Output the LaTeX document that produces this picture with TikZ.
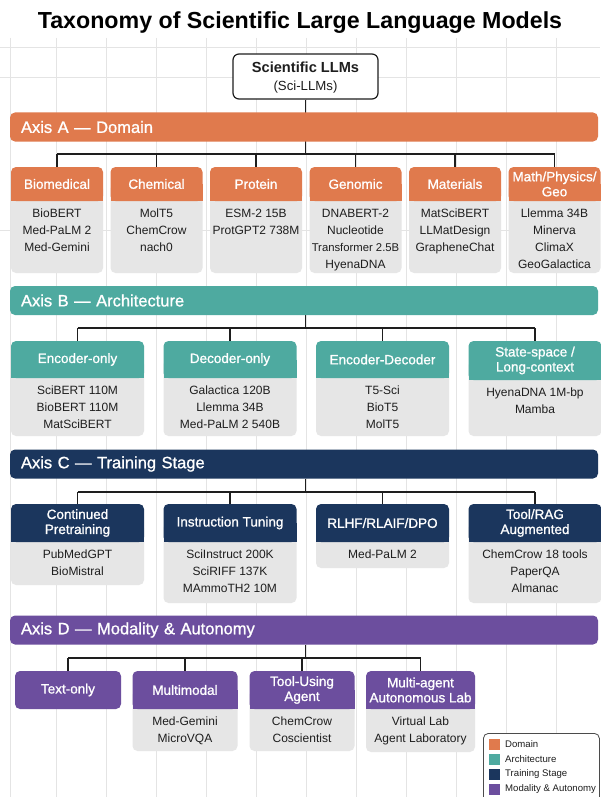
\documentclass[tikz,border=0pt]{standalone}
\usepackage{fontspec}
\setmainfont{Liberation Sans}
\newfontfamily\medfont[FakeBold=1]{Liberation Sans}
\usetikzlibrary{calc}

\definecolor{axA}{HTML}{E07A4D}
\definecolor{axB}{HTML}{4EAAA0}
\definecolor{axC}{HTML}{1B365D}
\definecolor{axD}{HTML}{6C4E9E}
\definecolor{cellgray}{HTML}{E6E6E6}
\definecolor{gridgray}{HTML}{E4E4E4}
\definecolor{ink}{HTML}{1E1E1E}

\pgfdeclarelayer{bg}
\pgfsetlayers{bg,main}

\newcommand{\fs}[2]{\fontsize{#1}{#2}\selectfont}

\tikzset{
  conn/.style={draw=ink, line width=1.2pt},
  gridline/.style={draw=gridgray, line width=0.8pt},
  axisband/.style={rectangle, rounded corners=5pt, minimum height=29pt,
    text width=566pt, inner xsep=11pt, inner ysep=0pt, align=left,
    text=white, font=\medfont\fs{16.5}{18}},
  cathead/.style={rectangle, rounded corners=5pt, inner sep=0pt,
    text=white, align=center, font=\medfont\fs{13.5}{15}},
  catbody/.style={rectangle, rounded corners=5pt, fill=cellgray, inner sep=0pt},
  catlist/.style={inner sep=0pt, align=center, text=ink, font=\fs{12}{17}},
  swatch/.style={rectangle, inner sep=0pt, minimum size=11pt},
  legtext/.style={inner sep=0pt, text=ink, font=\fs{9.6}{11}},
}

% #1 name, #2 colour, #3 centre x, #4 top, #5 width,
% #6 header height, #7 bottom, #8 header text, #9 model list
\newcommand{\catbox}[9]{%
  \node[catbody, minimum width=#5, minimum height={#7-#4-#6/2}] (#1)
    at (#3,{#4+#6/2+(#7-#4-#6/2)/2}) {};
  \fill[#2] ({#3-#5/2},{#4+#6/2}) rectangle ({#3+#5/2},{#4+#6});
  \node[cathead, fill=#2, minimum width=#5, minimum height=#6] (#1h)
    at (#3,{#4+#6/2}) {#8};
  \node[catlist, anchor=north] (#1l) at (#3,{#4+#6+7.7}) {#9};
}

\begin{document}
\begin{tikzpicture}[x=1pt, y=-1pt]
\useasboundingbox (0,0) rectangle (600,797);

% background grid
\begin{pgfonlayer}{bg}
\fill[white] (0,0) rectangle (600,797);
\foreach \gx in {10,56,106,156,206,256,306,356,406,456,506,556}
  \draw[gridline] (\gx,38) -- (\gx,797);
\foreach \gy in {47,77,230}
  \draw[gridline] (0,\gy) -- (600,\gy);
\end{pgfonlayer}

% title and root
\node[font=\bfseries\fs{23.2}{26}, anchor=base, text=black] (title)
  at (300,29) {Taxonomy of Scientific Large Language Models};
\node[rectangle, rounded corners=6pt, draw=ink, line width=1.2pt, fill=white,
  minimum width=145, minimum height=45, inner sep=0pt] (root) at (305.5,76.5) {};
\node[font=\bfseries\fs{14.6}{18}, anchor=base, text=ink] (rootname)
  at (305.5,73) {Scientific LLMs};
\node[font=\fs{13.2}{16}, anchor=base, text=ink] (rootabbr)
  at (305.5,91) {(Sci-LLMs)};

% axis bands
\node[axisband, fill=axA] (bandA) at (304,127) {Axis A — Domain};
\node[axisband, fill=axB] (bandB) at (304,300.5) {Axis B — Architecture};
\node[axisband, fill=axC] (bandC) at (304,464) {Axis C — Training Stage};
\node[axisband, fill=axD] (bandD) at (304,630) {Axis D — Modality \& Autonomy};

% Axis A: domain
\catbox{A1}{axA}{57}{167}{92}{34}{273}{Biomedical}{BioBERT\\Med-PaLM 2\\Med-Gemini}
\catbox{A2}{axA}{156.5}{167}{92}{34}{273}{Chemical}{MolT5\\ChemCrow\\nach0}
\catbox{A3}{axA}{256}{167}{92}{34}{273}{Protein}{ESM-2 15B\\ProtGPT2 738M}
\catbox{A4}{axA}{355.5}{167}{92}{34}{273}{Genomic}{DNABERT-2\\Nucleotide\\{\fs{11.3}{17}Transformer 2.5B}\\HyenaDNA}
\catbox{A5}{axA}{455}{167}{92}{34}{273}{Materials}{MatSciBERT\\LLMatDesign\\GrapheneChat}
\catbox{A6}{axA}{554.5}{167}{92}{34}{273}{Math/Physics/\\Geo}{Llemma 34B\\Minerva\\ClimaX\\GeoGalactica}

% Axis B: architecture
\catbox{B1}{axB}{77.5}{341}{133}{37}{436}{Encoder-only}{SciBERT 110M\\BioBERT 110M\\MatSciBERT}
\catbox{B2}{axB}{230}{341}{133}{37}{436}{Decoder-only}{Galactica 120B\\Llemma 34B\\Med-PaLM 2 540B}
\catbox{B3}{axB}{382.5}{341}{133}{37}{436}{Encoder-Decoder}{T5-Sci\\BioT5\\MolT5}
\catbox{B4}{axB}{535}{341}{133}{39}{436}{State-space /\\Long-context}{HyenaDNA 1M-bp\\Mamba}

% Axis C: training stage
\catbox{C1}{axC}{77.5}{504}{133}{38}{585}{Continued\\Pretraining}{PubMedGPT\\BioMistral}
\catbox{C2}{axC}{230}{504}{133}{38}{603}{Instruction Tuning}{SciInstruct 200K\\SciRIFF 137K\\MAmmoTH2 10M}
\catbox{C3}{axC}{382.5}{504}{133}{38}{568}{RLHF/RLAIF/DPO}{Med-PaLM 2}
\catbox{C4}{axC}{535}{504}{133}{38}{603}{Tool/RAG\\Augmented}{ChemCrow 18 tools\\PaperQA\\Almanac}

% Axis D: modality and autonomy
\node[cathead, fill=axD, minimum width=106, minimum height=38] (D1h) at (68,690) {Text-only};
\catbox{D2}{axD}{185}{671}{105}{38}{751}{Multimodal}{Med-Gemini\\MicroVQA}
\catbox{D3}{axD}{302}{671}{105}{38}{751}{Tool-Using\\Agent}{ChemCrow\\Coscientist}
\catbox{D4}{axD}{420.5}{671}{109}{38}{752}{Multi-agent\\Autonomous Lab}{Virtual Lab\\Agent Laboratory}

% junction points of each axis
\coordinate (Aj) at (305.5,154);
\coordinate (Bj) at (305.5,328);
\coordinate (Cj) at (305.5,492);
\coordinate (Dj) at (305.5,658);

% tree connectors
\begin{pgfonlayer}{bg}
\draw[conn] (root.south) -- (Aj);
\draw[conn] (Aj -| A1h.north) -- (Aj -| A6h.north);
\foreach \n in {A1,A2,A3,A4,A5,A6}
  \draw[conn] (Aj -| \n h.north) -- (\n h.north);

\draw[conn] (bandB.south -| Bj) -- (Bj);
\draw[conn] (Bj -| B1h.north) -- (Bj -| B4h.north);
\foreach \n in {B1,B2,B3,B4}
  \draw[conn] (Bj -| \n h.north) -- (\n h.north);

\draw[conn] (bandC.south -| Cj) -- (Cj);
\draw[conn] (Cj -| C1h.north) -- (Cj -| C4h.north);
\foreach \n in {C1,C2,C3,C4}
  \draw[conn] (Cj -| \n h.north) -- (\n h.north);

\draw[conn] (bandD.south -| Dj) -- (Dj);
\draw[conn] (Dj -| D1h.north) -- (Dj -| D4h.north);
\foreach \n in {D1,D2,D3,D4}
  \draw[conn] (Dj -| \n h.north) -- (\n h.north);
\end{pgfonlayer}

% legend
\node[draw=ink!80, line width=0.8pt, rounded corners=5pt, fill=white,
  minimum width=116, minimum height=72, inner sep=0pt, anchor=north west]
  (legend) at (483,733) {};
\node[swatch, fill=axA] (kA) at (494.5,744) {};
\node[swatch, fill=axB] (kB) at (494.5,759) {};
\node[swatch, fill=axC] (kC) at (494.5,774) {};
\node[swatch, fill=axD] (kD) at (494.5,789) {};
\node[legtext, anchor=west] (tA) at (505,744) {Domain};
\node[legtext, anchor=west] (tB) at (505,759) {Architecture};
\node[legtext, anchor=west] (tC) at (505,774) {Training Stage};
\node[legtext, anchor=west] (tD) at (505,789) {Modality \& Autonomy};
\end{tikzpicture}
\end{document}
